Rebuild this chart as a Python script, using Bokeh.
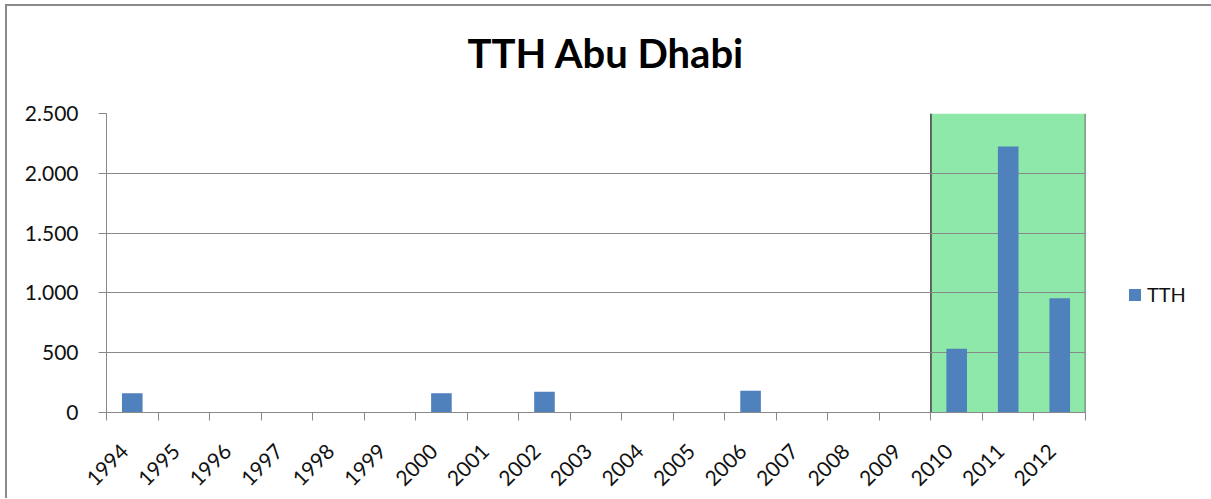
import numpy as np
from bokeh.plotting import figure
from bokeh.models import (FixedTicker, CustomJSTickFormatter, BoxAnnotation, Span,
                          Legend, LegendItem, Range1d, ColumnDataSource)
from bokeh.embed import file_html
from bokeh.resources import INLINE

# ---- data ----
years = ["1994", "1995", "1996", "1997", "1998", "1999", "2000", "2001", "2002", "2003",
         "2004", "2005", "2006", "2007", "2008", "2009", "2010", "2011", "2012"]
tth = [160, 0, 0, 0, 0, 0, 160, 0, 173, 0, 0, 0, 181, 0, 0, 0, 532, 2224, 956]
highlight_years = ["2010", "2011", "2012"]
y_ticks = [0, 500, 1000, 1500, 2000, 2500]
series_name = "TTH"
chart_title = "TTH Abu Dhabi"

n = len(years)
centers = list(np.arange(n) + 0.5)
bounds = list(np.arange(n + 1).astype(float))
label_pos = [c - 0.15 for c in centers]   # label anchors, nudged like the original
src = ColumnDataSource(dict(x=centers, top=tth, year=years))

FONT = "Lato"
GRID = "#888888"
FRAME_LINE = "#8a8a8a"

page_bg = (f"linear-gradient({FRAME_LINE},{FRAME_LINE}) 0px 16px / 100% 2px no-repeat, "
           f"linear-gradient({FRAME_LINE},{FRAME_LINE}) 0px 16px / 2px 100% no-repeat, white")

p = figure(frame_width=979, frame_height=299,
           min_border_left=101, min_border_top=125, min_border_right=124, min_border_bottom=86,
           x_range=Range1d(0, n), y_range=Range1d(y_ticks[0], y_ticks[-1]),
           output_backend="svg", toolbar_location=None, title=chart_title,
           styles={"margin-left": "5px", "margin-top": "-12px", "background": page_bg})
p.background_fill_color = "white"
p.border_fill_alpha = 0.0
p.outline_line_color = None

p.title.text_font = FONT
p.title.text_font_style = "bold"
p.title.text_font_size = "40px"
p.title.text_color = "black"
p.title.align = "left"
p.title.offset = 361
p.title.standoff = 73

# highlighted region
h0 = years.index(highlight_years[0])
h1 = years.index(highlight_years[-1]) + 1
box = BoxAnnotation(left=h0, right=h1, fill_color="#8EE8A9", fill_alpha=1.0,
                    line_color=None, level="image")
p.add_layout(box)
for loc in (h0, h1):
    p.add_layout(Span(location=loc, dimension="height", line_color="#3c3c3c",
                      line_width=1.5, level="image"))

r = p.vbar(x="x", top="top", width=0.4, bottom=0, source=src,
           fill_color="#4F81BD", line_color=None)

# grid
p.xgrid.visible = False
p.ygrid.ticker = FixedTicker(ticks=y_ticks)
p.ygrid.grid_line_color = GRID
p.ygrid.grid_line_width = 1

# y axis
ya = p.yaxis[0]
ya.ticker = FixedTicker(ticks=y_ticks)
ya.formatter = CustomJSTickFormatter(
    code="return String(Math.round(tick)).replace(/\\B(?=(\\d{3})+(?!\\d))/g, '.');")
ya.axis_line_color = GRID
ya.major_tick_line_color = GRID
ya.major_tick_out = 8
ya.major_tick_in = 0
ya.minor_tick_line_color = None
ya.major_label_text_font = FONT
ya.major_label_text_font_size = "21px"
ya.major_label_text_color = "#111111"
ya.major_label_standoff = 20

# x axis
xa = p.xaxis[0]
xa.ticker = FixedTicker(ticks=label_pos, minor_ticks=bounds)
xa.formatter = CustomJSTickFormatter(args=dict(years=years),
                                     code="return years[Math.round(tick - 0.5)];")
xa.axis_line_color = GRID
xa.major_tick_line_color = None
xa.minor_tick_line_color = GRID
xa.minor_tick_out = 8
xa.minor_tick_in = 0
xa.major_label_orientation = np.pi / 4
xa.major_label_text_font = FONT
xa.major_label_text_font_size = "21px"
xa.major_label_text_color = "#111111"
xa.major_label_standoff = 27

legend = Legend(items=[LegendItem(label=series_name, renderers=[r])],
                location=(42, 106), padding=0, margin=0,
                glyph_width=15, glyph_height=15, label_height=15,
                label_standoff=5, border_line_color=None,
                background_fill_alpha=0.0,
                label_text_font=FONT, label_text_font_size="20px",
                label_text_color="#111111")
p.add_layout(legend, "right")

open("out.html", "w").write(file_html(p, INLINE))
